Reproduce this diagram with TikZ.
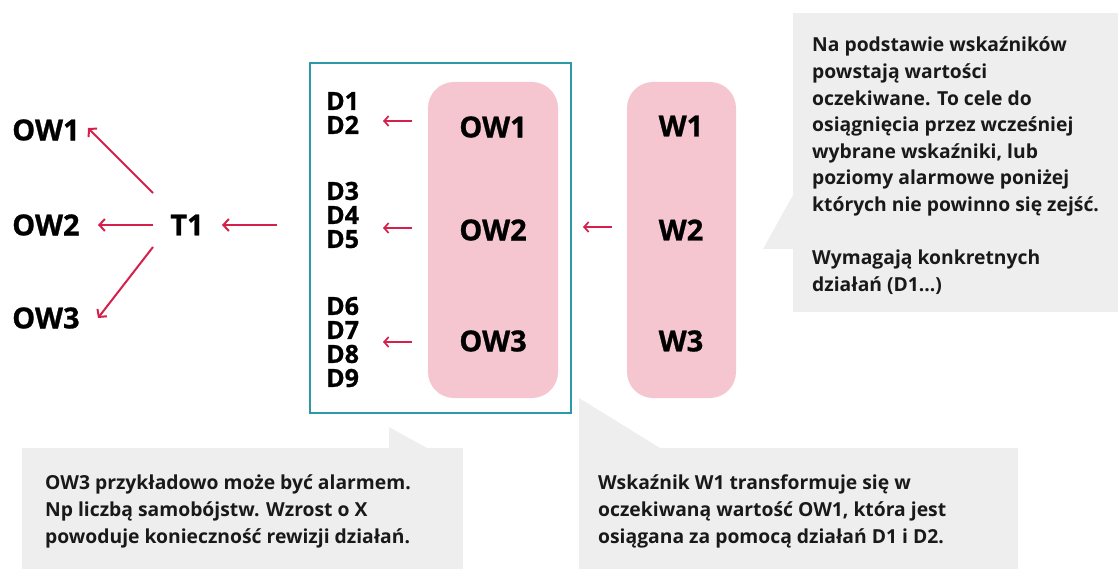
\documentclass[tikz,border=0pt]{standalone}
\usepackage{fontspec}
\setmainfont{Open Sans}
\newfontfamily\heavyfont{Open Sans}[BoldFeatures={FakeBold=0.9}]
\usetikzlibrary{arrows.meta}

\definecolor{arrowred}{RGB}{214,32,76}
\definecolor{tealline}{RGB}{42,154,166}
\definecolor{pinkfill}{RGB}{245,198,207}
\definecolor{calloutgray}{RGB}{238,238,238}
\definecolor{calltext}{RGB}{25,25,25}

\tikzset{
  biglabel/.style={font=\heavyfont\bfseries\fontsize{29}{30}\selectfont, inner sep=0pt},
  dlist/.style={font=\heavyfont\bfseries\fontsize{25}{24}\selectfont, align=left, inner sep=0pt, anchor=west},
  pinkbox/.style={fill=pinkfill, rounded corners=26pt, draw=none},
  arr/.style={draw=arrowred, line width=2pt, -{Straight Barb[length=5.5pt,width=12pt,line width=2pt]}},
  smallarr/.style={draw=arrowred, line width=1.7pt, -{Straight Barb[length=4.5pt,width=10pt,line width=1.7pt]}},
  callout/.style={fill=calloutgray},
  calltxt/.style={font=\bfseries\fontsize{19.3}{26.6}\selectfont, text=calltext, align=left, inner sep=0pt, anchor=north west}
}

\begin{document}
\begin{tikzpicture}[x=1pt,y=-1pt]
\useasboundingbox (0,0) rectangle (1118,569);

% speech-bubble backgrounds
\fill[callout] (793,13) rectangle (1118,312);
\fill[callout] (793,195) -- (763,249) -- (793,249) -- cycle;
\fill[callout] (22,448) rectangle (463,569);
\fill[callout] (389,427) -- (389,448) -- (427,448) -- cycle;
\fill[callout] (579,448) rectangle (1018,569);
\fill[callout] (579,398) -- (579,448) -- (660,448) -- cycle;

% outer frame around actions and expected values
\node[draw=tealline, line width=2.4pt, minimum width=261pt, minimum height=350pt, inner sep=0pt] (frame) at (440.5,238) {};

% pink columns
\node[pinkbox, minimum width=130pt, minimum height=316pt] (owbox) at (493,240) {};
\node[pinkbox, minimum width=109pt, minimum height=316pt] (wbox) at (681.5,240) {};

% labels inside columns
\node[biglabel] (ow1) at (493,127) {OW1};
\node[biglabel] (ow2) at (493,230) {OW2};
\node[biglabel] (ow3) at (493,341) {OW3};
\node[biglabel] (w1) at (681,126) {W1};
\node[biglabel] (w2) at (681,230) {W2};
\node[biglabel] (w3) at (681,341) {W3};

% action lists
\node[dlist] (d12) at (326,113) {D1\\D2};
\node[dlist] (d35) at (326,215) {D3\\D4\\D5};
\node[dlist] (d69) at (326,342) {D6\\D7\\D8\\D9};

% left part: T1 fanning out
\node[biglabel] (t1) at (187,225) {T1};
\node[biglabel, anchor=west] (lo1) at (12,130) {OW1};
\node[biglabel, anchor=west] (lo2) at (12,225) {OW2};
\node[biglabel, anchor=west] (lo3) at (12,318) {OW3};

% connectors
\draw[arr] ([shift={(-34,-32)}]t1.center) -- ([shift={(76,-2)}]lo1.west);
\draw[arr] ([shift={(-34,0)}]t1.center) -- ([shift={(86,0)}]lo2.west);
\draw[arr] ([shift={(-34,22)}]t1.center) -- ([shift={(86,0)}]lo3.west);
\draw[arr] ([shift={(-32,-13)}]frame.west) -- ([xshift=35]t1.center);

\draw[smallarr] ([shift={(-81,-6)}]ow1.center) -- ([shift={(-110,-6)}]ow1.center);
\draw[smallarr] ([shift={(-81,-2)}]ow2.center) -- ([shift={(-110,-2)}]ow2.center);
\draw[smallarr] ([shift={(-81,1)}]ow3.center) -- ([shift={(-110,1)}]ow3.center);
\draw[smallarr] ([shift={(-69,-3)}]w2.center) -- ([shift={(-98,-3)}]w2.center);

% callout texts
\node[calltxt] (noteR) at (812,37) {Na podstawie wskaźników\\powstają wartości\\oczekiwane. To cele do\\osiągnięcia przez wcześniej\\wybrane wskaźniki, lub\\poziomy alarmowe poniżej\\których nie powinno się zejść.\\[26.6pt]Wymagają konkretnych\\działań (D1...)};
\node[calltxt] (noteL) at (45,475) {OW3 przykładowo może być alarmem.\\Np liczbą samobójstw. Wzrost o X\\powoduje konieczność rewizji działań.};
\node[calltxt] (noteM) at (598,475) {Wskaźnik W1 transformuje się w\\oczekiwaną wartość OW1, która jest\\osiągana za pomocą działań D1 i D2.};
\end{tikzpicture}
\end{document}
